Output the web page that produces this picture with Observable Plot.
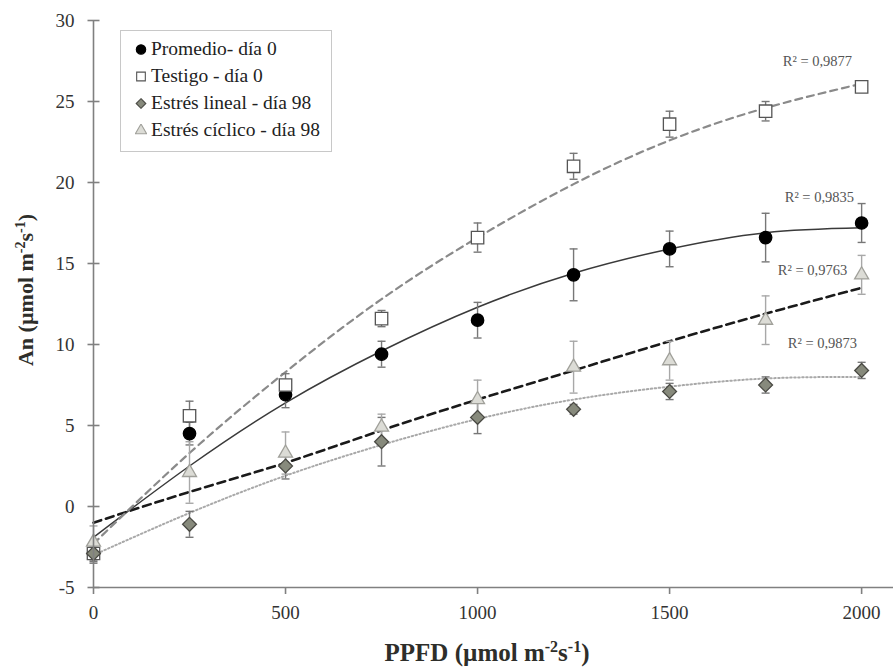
<!DOCTYPE html>
<html><head><meta charset="utf-8">
<script src="https://cdn.jsdelivr.net/npm/d3@7"></script>
<script src="https://cdn.jsdelivr.net/npm/@observablehq/plot@0.6"></script>
<style>
body{margin:0;background:#fff;}
#wrap{position:relative;width:893px;height:668px;font-family:'Liberation Serif',Tinos,'Times New Roman',Times,'Noto Serif','DejaVu Serif',serif;}
#legend{position:absolute;left:120px;top:30px;width:212px;height:122px;border:1px solid #c8c8c8;box-sizing:border-box;background:#fff;padding-top:4px;}
.item{display:flex;align-items:center;height:27px;font-size:19.5px;color:#222;white-space:nowrap;}
.item svg{margin-left:14px;margin-right:4px;}
</style></head>
<body><div id="wrap"><div id="legend"></div></div>
<script>
const FONT = "'Liberation Serif', Tinos, 'Times New Roman', Times, 'Noto Serif', 'DejaVu Serif', serif";
// PPFD levels
const ppfd = [0, 250, 500, 750, 1000, 1250, 1500, 1750, 2000];
// Promedio - día 0
const promedio    = [-2.9, 4.5, 6.9, 9.4, 11.5, 14.3, 15.9, 16.6, 17.5];
const promedioErr = [0.5, 0.7, 0.8, 0.8, 1.1, 1.6, 1.1, 1.5, 1.2];
// Testigo - día 0
const testigo     = [-2.9, 5.6, 7.5, 11.6, 16.6, 21.0, 23.6, 24.4, 25.9];
const testigoErr  = [0.4, 0.9, 0.7, 0.5, 0.9, 0.8, 0.8, 0.6, 0.3];
// Estrés lineal - día 98
const lineal      = [-2.9, -1.1, 2.5, 4.0, 5.5, 6.0, 7.1, 7.5, 8.4];
const linealErr   = [0.6, 0.8, 0.8, 1.5, 1.0, 0.3, 0.5, 0.5, 0.5];
// Estrés cíclico - día 98
const ciclico     = [-2.2, 2.1, 3.3, 4.9, 6.6, 8.6, 9.0, 11.5, 14.3];
const ciclicoErr  = [1.0, 1.9, 1.3, 0.8, 1.2, 1.6, 1.2, 1.5, 1.2];
// trend lines
const trendTestigo  = [-2.3, 3.3, 8.3, 12.8, 16.6, 19.9, 22.6, 24.6, 26.1];
const trendPromedio = [-1.9, 2.5, 6.4, 9.6, 12.3, 14.4, 15.9, 16.9, 17.2];
const trendCiclico  = [-1.0, 0.9, 2.7, 4.7, 6.6, 8.4, 10.2, 11.9, 13.5];
const trendLineal   = [-3.0, -0.4, 1.9, 3.8, 5.4, 6.6, 7.4, 7.9, 8.0];
// R² annotations
const r2Text = ["R² = 0,9877", "R² = 0,9835", "R² = 0,9763", "R² = 0,9873"];
const r2X = [1885, 1890, 1872, 1898];
const r2Y = [27.5, 19.1, 14.6, 10.1];
// ticks
const xTicks = [0, 500, 1000, 1500, 2000];
const yTicks = [-5, 0, 5, 10, 15, 20, 25, 30];

const diamondSym = {draw(ctx, size) { const s = Math.sqrt(size) * 0.62; ctx.moveTo(0, -s); ctx.lineTo(s, 0); ctx.lineTo(0, s); ctx.lineTo(-s, 0); ctx.closePath(); }};
const cap = {draw(ctx) { ctx.moveTo(-4, 0); ctx.lineTo(4, 0); }};
const cross = {draw(ctx) { ctx.moveTo(-6, 0); ctx.lineTo(6, 0); }};

const series = [
  {name: "Promedio- día 0", v: promedio, e: promedioErr, symbol: "circle", fill: "#000", stroke: "#000", r: 6.2, ebar: "#777"},
  {name: "Testigo - día 0", v: testigo, e: testigoErr, symbol: "square", fill: "#fff", stroke: "#555", r: 7, ebar: "#777"},
  {name: "Estrés lineal - día 98", v: lineal, e: linealErr, symbol: diamondSym, fill: "#878a7c", stroke: "#4a4a44", r: 6.3, ebar: "#777"},
  {name: "Estrés cíclico - día 98", v: ciclico, e: ciclicoErr, symbol: "triangle", fill: "#dcdcd6", stroke: "#a0a09a", r: 5.2, ebar: "#a8a8a8"}
];
const rowsOf = s => ppfd.map((x, i) => ({x, y: s.v[i], lo: s.v[i] - s.e[i], hi: s.v[i] + s.e[i]}));
const trendRows = arr => ppfd.map((x, i) => ({x, y: arr[i]}));
const r2 = r2Text.map((t, i) => ({t, x: r2X[i], y: r2Y[i]}));

const marks = [
  Plot.line(trendRows(trendLineal), {x: "x", y: "y", curve: "natural", stroke: "#a9a9a9", strokeWidth: 2, strokeDasharray: "1.5,2.5"}),
  Plot.line(trendRows(trendCiclico), {x: "x", y: "y", curve: "natural", stroke: "#1a1a1a", strokeWidth: 2.6, strokeDasharray: "8,5"}),
  Plot.line(trendRows(trendPromedio), {x: "x", y: "y", curve: "natural", stroke: "#3a3a3a", strokeWidth: 1.5}),
  Plot.line(trendRows(trendTestigo), {x: "x", y: "y", curve: "natural", stroke: "#8a8a8a", strokeWidth: 2.2, strokeDasharray: "7,5"}),
];
for (const s of series) {
  const rows = rowsOf(s);
  marks.push(
    Plot.ruleX(rows, {x: "x", y1: "lo", y2: "hi", stroke: s.ebar, strokeWidth: 1.4}),
    Plot.dot(rows, {x: "x", y: "lo", symbol: cap, stroke: s.ebar, strokeWidth: 1.4, fill: "none"}),
    Plot.dot(rows, {x: "x", y: "hi", symbol: cap, stroke: s.ebar, strokeWidth: 1.4, fill: "none"})
  );
}
for (const s of series) {
  marks.push(Plot.dot(rowsOf(s), {x: "x", y: "y", symbol: s.symbol, r: s.r, fill: s.fill, stroke: s.stroke, strokeWidth: 1.3}));
}
marks.push(
  Plot.text(r2, {x: "x", y: "y", text: "t", fontSize: 14.5, fill: "#555"}),
  Plot.ruleX([0], {y1: -5, y2: 30, stroke: "#808080", strokeWidth: 1.6}),
  Plot.ruleY([-5], {stroke: "#808080", strokeWidth: 1.6}),
  Plot.dot(yTicks, {x: 0, y: d => d, symbol: cross, stroke: "#808080", strokeWidth: 1.6, fill: "none"}),
  Plot.axisY(yTicks, {tickSize: 0, tickPadding: 19, fontSize: 19, fill: "#333", label: null, tickFormat: d => String(d)}),
  Plot.axisX(xTicks, {tickSize: 7, tickPadding: 11, fontSize: 19, fill: "#333", stroke: "#808080", strokeWidth: 1.6, label: null, tickFormat: d => String(d)})
);

const chart = Plot.plot({
  width: 893, height: 668,
  marginLeft: 93, marginRight: 0, marginTop: 20, marginBottom: 81,
  x: {domain: [0, 2083]},
  y: {domain: [-5, 30]},
  style: {fontFamily: FONT, background: "#fff", overflow: "visible"},
  marks
});
document.getElementById("wrap").appendChild(chart);

// axis titles with superscripts
const svg = d3.select(chart);
function title(g, pre, size) {
  const sup = Math.round(size * 0.62), up = Math.round(size * 0.37);
  const t = g.append("text").attr("text-anchor", "middle").attr("font-weight", "bold")
    .attr("font-size", size).attr("fill", "#2e2e2a").style("font-family", FONT);
  t.append("tspan").text(pre + " (µmol m");
  t.append("tspan").attr("dy", -up).attr("font-size", sup).text("-2");
  t.append("tspan").attr("dy", up).text("s");
  t.append("tspan").attr("dy", -up).attr("font-size", sup).text("-1");
  t.append("tspan").attr("dy", up).text(")");
}
title(svg.append("g").attr("transform", "translate(33,290) rotate(-90)"), "An", 22);
title(svg.append("g").attr("transform", "translate(487,661)"), "PPFD", 25);

// legend
const leg = d3.select("#legend");
series.forEach(s => {
  const it = leg.append("div").attr("class", "item");
  const sv = it.append("svg").attr("width", 12).attr("height", 12);
  let d;
  if (typeof s.symbol === "string") {
    const sym = {circle: d3.symbolCircle, square: d3.symbolSquare, triangle: d3.symbolTriangle}[s.symbol];
    d = d3.symbol(sym, s.symbol === "circle" ? 70 : s.symbol === "square" ? 75 : 55)();
  } else {
    d = d3.symbol(s.symbol, 60)();
  }
  sv.append("path").attr("transform", "translate(6,6.5)").attr("d", d)
    .attr("fill", s.fill).attr("stroke", s.stroke).attr("stroke-width", 1.1);
  it.append("span").text(s.name);
});
</script>
</body></html>
